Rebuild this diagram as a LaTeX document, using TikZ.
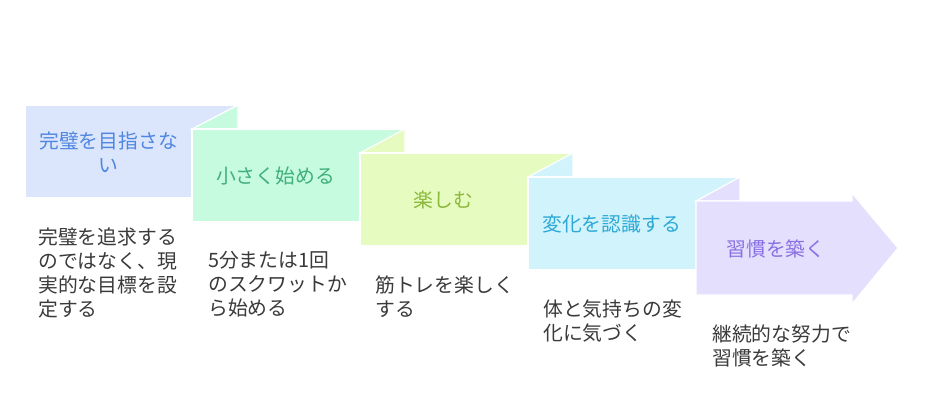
\documentclass[tikz,border=0pt]{standalone}
\usepackage{fontspec}
\newfontfamily\jp{Noto Sans CJK JP}
\definecolor{fa}{HTML}{DBE6FC}\definecolor{ta}{HTML}{4F86E0}
\definecolor{fb}{HTML}{C6FBE0}\definecolor{tb}{HTML}{40B07A}
\definecolor{fc}{HTML}{E6FBC0}\definecolor{tc}{HTML}{8CB83C}
\definecolor{fd}{HTML}{D0F3FC}\definecolor{td}{HTML}{2EA9D6}
\definecolor{fe}{HTML}{E3DFFD}\definecolor{te}{HTML}{8A6FE3}
\definecolor{dtext}{HTML}{3A3A3A}
\begin{document}
\begin{tikzpicture}[x=1pt,y=-1pt,
  panel/.style={draw=white, line width=1.2pt, line join=miter},
  title/.style={font=\jp\fontsize{19.8}{24}\selectfont, align=center, inner sep=0pt},
  desc/.style={font=\jp\fontsize{19.8}{24}\selectfont, text=dtext, align=left, anchor=north west, inner sep=0pt}]
\useasboundingbox[fill=white] (0,0) rectangle (925,416);
% box 1
\filldraw[panel, fill=fa] (25,105) rectangle (238,198);
% box 2
\filldraw[panel, fill=fb] (192,129) -- (238,105) -- (238,129) -- cycle;
\filldraw[panel, fill=fb] (192,129) rectangle (405,222);
% box 3
\filldraw[panel, fill=fc] (360,153) -- (405,129) -- (405,153) -- cycle;
\filldraw[panel, fill=fc] (360,153) rectangle (573,246);
% box 4
\filldraw[panel, fill=fd] (528,177) -- (573,153) -- (573,177) -- cycle;
\filldraw[panel, fill=fd] (528,177) rectangle (740,270);
% box 5
\filldraw[panel, fill=fe] (696,201) -- (740,177) -- (740,201) -- cycle;
\filldraw[panel, fill=fe] (696,201) -- (852,201) -- (852,193) -- (898,248) -- (852,304) -- (852,295) -- (696,295) -- cycle;
% titles
\node[title, text=ta] (t1) at (108.5,152) {完璧を目指さな\\い};
\node[title, text=tb] (t2) at (275.5,176) {小さく始める};
\node[title, text=tc] (t3) at (443.5,200) {楽しむ};
\node[title, text=td] (t4) at (611.5,224) {変化を認識する};
\node[title, text=te] (t5) at (776,248.5) {習慣を築く};
% descriptions
\node[desc] (d1) at (38,227.5) {完璧を追求する\\のではなく、現\\実的な目標を設\\定する};
\node[desc] (d2) at (208,251.5) {5分または1回\\のスクワットか\\ら始める};
\node[desc] (d3) at (375,275.5) {筋トレを楽しく\\する};
\node[desc] (d4) at (543,299.5) {体と気持ちの変\\化に気づく};
\node[desc] (d5) at (712,324.5) {継続的な努力で\\習慣を築く};
\end{tikzpicture}
\end{document}
